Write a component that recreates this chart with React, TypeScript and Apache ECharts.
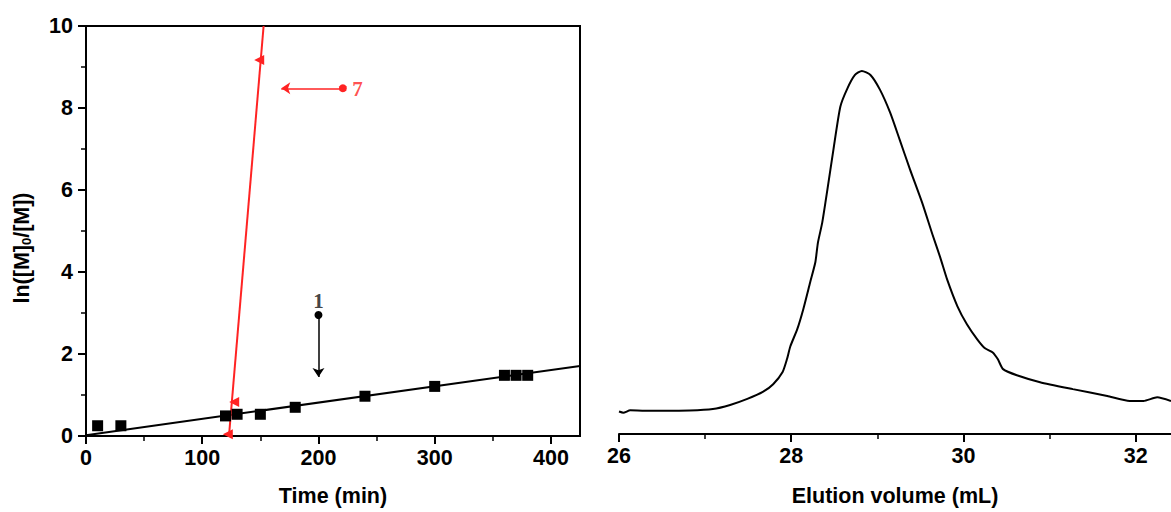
import React, { useEffect, useRef } from "react";
import * as echarts from "echarts";

// ---- Left panel: kinetics ----
const timeTicks = [0, 100, 200, 300, 400];
const timeMinorTicks = [50, 150, 250, 350];
const blackTime = [10, 30, 120, 130, 150, 180, 240, 300, 360, 370, 380];
const blackLn = [0.25, 0.25, 0.49, 0.53, 0.53, 0.7, 0.97, 1.21, 1.48, 1.48, 1.48];
const redTime = [122, 127.5, 149];
const redLn = [0.04, 0.83, 9.17];
const blackFitTime = [0, 425];
const blackFitLn = [0.02, 1.71];
const redFitTime = [123, 152.8];
const redFitLn = [0, 10];
// annotation arrows: [startX, startY, endX, endY]
const arrow7 = [221, 8.48, 168, 8.48];
const arrow1 = [200, 2.95, 200, 1.44];
const labelNames = ["7", "1"];
const labelX = [233.5, 200];
const labelY = [8.46, 3.3];

// ---- Right panel: SEC trace ----
const volTicks = [26, 28, 30, 32];
const volMinorTicks = [27, 29, 31];
const elutionVol = [
  26.0, 26.05, 26.13, 26.3, 26.48, 26.82, 27.09, 27.29, 27.49, 27.67, 27.79, 27.9, 27.95,
  27.99, 28.07, 28.14, 28.22, 28.28, 28.31, 28.36, 28.42, 28.49, 28.57, 28.65, 28.74,
  28.82, 28.92, 29.03, 29.15, 29.26, 29.38, 29.52, 29.64, 29.73, 29.81, 29.93, 30.04,
  30.16, 30.25, 30.34, 30.4, 30.46, 30.62, 30.89, 31.27, 31.67, 31.93, 32.09, 32.25, 32.41,
];
const intensity = [
  5.5, 5.2, 5.8, 5.7, 5.7, 5.75, 6.1, 7.1, 8.6, 10.3, 12.2, 15.2, 18.3,
  21.5, 25.7, 30.6, 37.2, 42.1, 46.9, 51.8, 59.9, 69.7, 80.2, 84.6, 88.0,
  89.0, 88.0, 84.4, 78.7, 72.1, 64.8, 56.7, 48.9, 43.3, 37.9, 31.3, 26.9,
  23.2, 21.0, 20.0, 18.3, 15.9, 14.4, 12.7, 11.0, 9.3, 8.1, 8.1, 9.0, 8.1,
];

const RED = "#ff2323";
const FONT = "'Liberation Sans', Arial, sans-serif";
const SERIF = "'Liberation Serif', 'Times New Roman', serif";

const zip = (a: number[], b: number[]) => a.map((v, i) => [v, b[i]]);

export default function App() {
  const ref = useRef<HTMLDivElement>(null);
  useEffect(() => {
    if (!ref.current) return;
    const chart = echarts.init(ref.current, null, { renderer: "svg" });
    const labelStyle = { fontSize: 21.5, fontWeight: "bold" as const, fontFamily: FONT, color: "#000" };
    const axisLine = { show: true, onZero: false, lineStyle: { color: "#000", width: 2 } };
    const option: any = {
      animation: false,
      backgroundColor: "#fff",
      grid: [
        { left: 86, top: 26, width: 494, height: 411, show: true, borderColor: "#000", borderWidth: 2, backgroundColor: "transparent" },
        { left: 619, top: 26, width: 552, height: 409 },
      ],
      xAxis: [
        {
          type: "value", gridIndex: 0, min: 0, max: 425, interval: 100,
          axisLine,
          axisTick: { show: true, length: 8, customValues: timeTicks, lineStyle: { color: "#000", width: 2 } },
          axisLabel: { ...labelStyle, margin: 11, customValues: timeTicks },
          splitLine: { show: false },
          name: "Time (min)", nameLocation: "middle", nameGap: 49,
          nameTextStyle: labelStyle,
        },
        {
          type: "value", gridIndex: 0, min: 0, max: 425, position: "bottom",
          axisLine: { show: false },
          axisTick: { show: true, length: 5, customValues: timeMinorTicks, lineStyle: { color: "#000", width: 1.5 } },
          axisLabel: { show: false },
          splitLine: { show: false },
        },
        {
          type: "value", gridIndex: 1, min: 26, max: 32.41, interval: 2,
          axisLine,
          axisTick: { show: true, length: 8, customValues: volTicks, lineStyle: { color: "#000", width: 2 } },
          axisLabel: { ...labelStyle, margin: 11, customValues: volTicks },
          splitLine: { show: false },
          name: "Elution volume (mL)", nameLocation: "middle", nameGap: 51,
          nameTextStyle: labelStyle,
        },
        {
          type: "value", gridIndex: 1, min: 26, max: 32.41, position: "bottom",
          axisLine: { show: false },
          axisTick: { show: true, length: 5, customValues: volMinorTicks, lineStyle: { color: "#000", width: 1.5 } },
          axisLabel: { show: false },
          splitLine: { show: false },
        },
      ],
      yAxis: [
        {
          type: "value", gridIndex: 0, min: 0, max: 10, interval: 2,
          axisLine,
          axisTick: { show: true, length: 8, lineStyle: { color: "#000", width: 2 } },
          minorTick: { show: true, splitNumber: 2, length: 5, lineStyle: { color: "#000", width: 1.5 } },
          axisLabel: { ...labelStyle, margin: 13 },
          splitLine: { show: false },
          minorSplitLine: { show: false },
        },
        { type: "value", gridIndex: 1, min: 0, max: 100, show: false },
      ],
      graphic: [
        {
          type: "text",
          x: 22,
          y: 248,
          rotation: Math.PI / 2,
          style: {
            text: "{a|ln([M]}{s|0}{a|/[M])}",
            align: "center",
            verticalAlign: "middle",
            fill: "#000",
            rich: {
              a: { fontSize: 21.5, fontWeight: "bold", fontFamily: FONT, fill: "#000" },
              s: { fontSize: 13, fontWeight: "bold", fontFamily: FONT, fill: "#000", verticalAlign: "bottom" },
            },
          },
        },
      ],
      series: [
        {
          type: "line", xAxisIndex: 0, yAxisIndex: 0,
          data: zip(blackFitTime, blackFitLn),
          showSymbol: false, lineStyle: { color: "#000", width: 2 }, z: 2,
          markLine: {
            silent: true,
            label: { show: false },
            lineStyle: { color: "#000", width: 1.5, type: "solid" },
            data: [[
              { coord: [arrow1[0], arrow1[1]], symbol: "circle", symbolSize: 8 },
              { coord: [arrow1[2], arrow1[3]], symbol: "arrow", symbolSize: 9 },
            ]],
          },
        },
        {
          type: "line", xAxisIndex: 0, yAxisIndex: 0,
          data: zip(redFitTime, redFitLn),
          showSymbol: false, lineStyle: { color: RED, width: 2 }, z: 2,
          markLine: {
            silent: true,
            label: { show: false },
            lineStyle: { color: RED, width: 1.5, type: "solid" },
            data: [[
              { coord: [arrow7[0], arrow7[1]], symbol: "circle", symbolSize: 8 },
              { coord: [arrow7[2], arrow7[3]], symbol: "arrow", symbolSize: 9 },
            ]],
          },
        },
        {
          type: "scatter", xAxisIndex: 0, yAxisIndex: 0,
          data: zip(blackTime, blackLn),
          symbol: "rect", symbolSize: 11, itemStyle: { color: "#000", opacity: 1 }, z: 3,
        },
        {
          type: "scatter", xAxisIndex: 0, yAxisIndex: 0,
          data: zip(redTime, redLn),
          symbol: "triangle", symbolRotate: 90, symbolSize: 10, itemStyle: { color: RED, opacity: 1 }, z: 3,
        },
        {
          type: "scatter", xAxisIndex: 0, yAxisIndex: 0,
          data: labelNames.map((n, i) => ({
            name: n,
            value: [labelX[i], labelY[i]],
            label: { color: n === "7" ? RED : "#111" },
          })),
          symbolSize: 1, itemStyle: { color: "rgba(0,0,0,0)" }, z: 4,
          label: {
            show: true, position: "inside", formatter: "{b}",
            fontFamily: SERIF, fontWeight: "bold", fontSize: 21,
          },
        },
        {
          type: "line", xAxisIndex: 2, yAxisIndex: 1,
          data: zip(elutionVol, intensity),
          showSymbol: false, smooth: 0.2, lineStyle: { color: "#000", width: 2 },
        },
      ],
    };
    chart.setOption(option);
    return () => chart.dispose();
  }, []);
  return (
    <div
      ref={ref}
      style={{ position: "absolute", left: 0, top: 0, width: 1171, height: 512 }}
    />
  );
}
